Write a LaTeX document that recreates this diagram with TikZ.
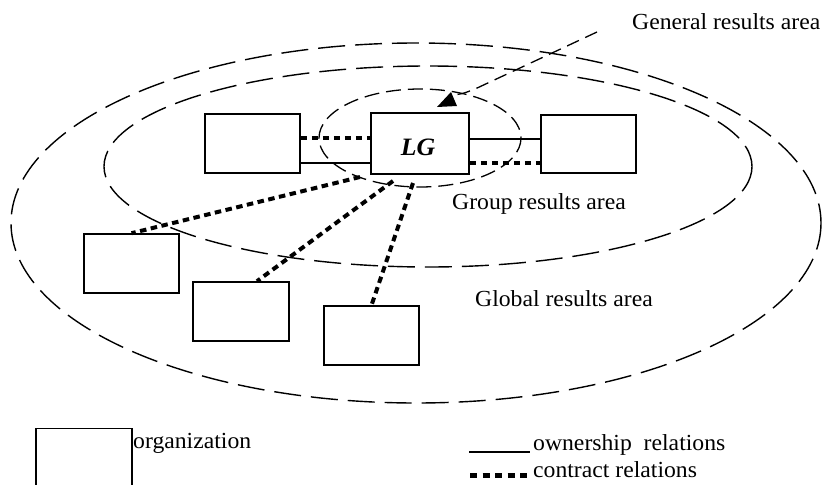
\documentclass[tikz,border=0pt]{standalone}
\usepackage{fontspec}
\setmainfont[FakeStretch=1.03]{Liberation Serif}
\begin{document}
\begin{tikzpicture}[x=1pt,y=-1pt,
  org/.style={draw,line width=1.6pt,rectangle,inner sep=0pt,minimum width=95pt,minimum height=59pt},
  area/.style={line width=1.4pt,dash pattern=on 27pt off 10pt},
  inarea/.style={line width=1.3pt,dash pattern=on 15pt off 7pt},
  leader/.style={line width=1.3pt,dash pattern=on 13pt off 7pt},
  own/.style={line width=1.4pt},
  contract/.style={line width=4pt,dash pattern=on 6.5pt off 4.5pt},
  lbl/.style={font=\fontsize{23}{27}\selectfont,inner sep=0pt}]
\useasboundingbox (0,0) rectangle (823,485);
% areas
\draw[area] (416,223) ellipse [x radius=405, y radius=180];
\draw[area] (428,166.5) ellipse [x radius=324, y radius=100.5];
\draw[inarea] (420,138) ellipse [x radius=101, y radius=49];
% organizations
\node[org] (L) at (252.5,143.5) {};
\node[org,minimum width=98pt,minimum height=61pt] (LG) at (420,143.5) {};
\node[lbl,font=\fontsize{25}{29}\selectfont\bfseries\itshape,anchor=base] (LGt) at (418,155) {LG};
\node[org,minimum height=58pt] (R) at (588.5,144) {};
\node[org] (B1) at (131.5,263.5) {};
\node[org,minimum width=96pt] (B2) at (241,311.5) {};
\node[org] (B3) at (371.5,335.5) {};
% relations
\draw[contract] (L.east |- 0,138) -- (LG.west |- 0,138);
\draw[own] (L.east |- 0,163) -- (LG.west |- 0,163);
\draw[own] (LG.east |- 0,139) -- (R.west |- 0,139);
\draw[contract] (LG.east |- 0,163) -- (R.west |- 0,163);
\coordinate (s1) at (360,177);
\coordinate (s2) at (393,181);
\coordinate (s3) at (413,183);
\draw[contract] (s1) -- (B1.north);
\draw[contract] (s2) -- ([xshift=16pt]B2.north);
\draw[contract] (s3) -- (B3.north);
% labels
\node[lbl,anchor=base west] (G) at (632,29) {General results area};
\coordinate (g1) at (597,32);
\draw[leader] (g1) -- (475,89) .. controls (462,94) .. (452,95);
\fill (451,92) -- (437,107) -- (457,106) -- cycle;
\node[lbl,anchor=base west] (Gr) at (452,209) {Group results area};
\node[lbl,anchor=base west] (Gl) at (475,306) {Global results area};
% legend
\node[org,minimum width=96pt] (K) at (84,458) {};
\node[lbl,anchor=base west] (Ko) at (133,448) {organization};
\coordinate (o1) at (469,452);
\coordinate (o2) at (530,452);
\draw[own] (o1) -- (o2);
\node[lbl,anchor=base west] (Kw) at (533,450) {ownership\ \ relations};
\coordinate (c1) at (470,475.5);
\coordinate (c2) at (531,475.5);
\draw[line width=5pt,dash pattern=on 7pt off 5.5pt] (c1) -- (c2);
\node[lbl,anchor=base west] (Kc) at (533,477) {contract relations};
\end{tikzpicture}
\end{document}
